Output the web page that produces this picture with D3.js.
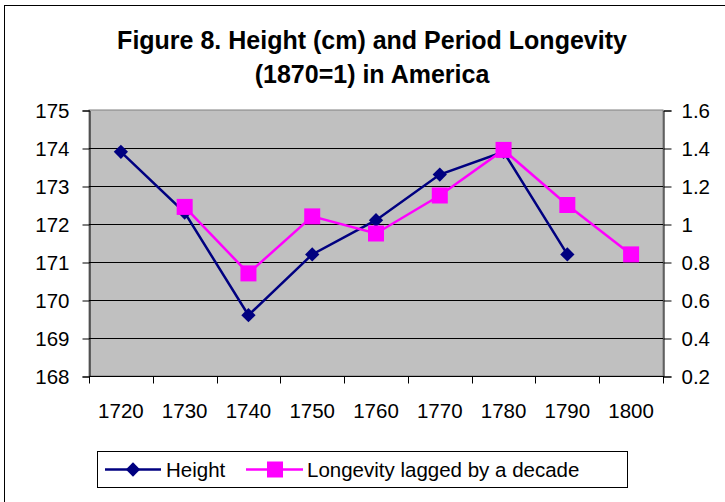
<!DOCTYPE html>
<html>
<head>
<meta charset="utf-8">
<script src="https://cdn.jsdelivr.net/npm/d3@7"></script>
<style>
  body { margin: 0; background: #fff; }
  text { font-family: "Liberation Sans", Arial, sans-serif; fill: #000; }
</style>
</head>
<body>
<div id="chart"></div>
<script>
const years = ['1720', '1730', '1740', '1750', '1760', '1770', '1780', '1790', '1800']
const height = [173.9, 172.3, 169.6, 171.2, 172.1, 173.3, 173.9, 171.2, null]
const longevity = [null, 1.09, 0.74, 1.04, 0.95, 1.15, 1.39, 1.10, 0.84]
const leftTicks = [168, 169, 170, 171, 172, 173, 174, 175]
const rightTicks = [0.2, 0.4, 0.6, 0.8, 1, 1.2, 1.4, 1.6]
const titleLines = ['Figure 8. Height (cm) and Period Longevity', '(1870=1) in America']
const seriesNames = ['Height', 'Longevity lagged by a decade']

const W = 725, H = 502
const plot = { left: 89, right: 663, top: 110, bottom: 376 }

const svg = d3.select('#chart')
  .append('svg')
  .attr('width', W)
  .attr('height', H)

// outer frame (runs off the right and bottom edge)
svg.append('rect')
  .attr('x', 4.5).attr('y', 5.5)
  .attr('width', 740).attr('height', 520)
  .attr('fill', 'none')
  .attr('stroke', '#000')

const x = d3.scaleBand()
  .domain(years)
  .range([plot.left, plot.right])

const yL = d3.scaleLinear().domain([168, 175]).range([plot.bottom, plot.top])
const yR = d3.scaleLinear().domain([0.2, 1.6]).range([plot.bottom, plot.top])

// plot area
svg.append('rect')
  .attr('x', plot.left).attr('y', plot.top)
  .attr('width', plot.right - plot.left)
  .attr('height', plot.bottom - plot.top)
  .attr('fill', '#c0c0c0')
  .attr('stroke', '#808080')

// gridlines
svg.append('g')
  .selectAll('line')
  .data(leftTicks.slice(1, -1))
  .enter()
  .append('line')
  .attr('x1', plot.left).attr('x2', plot.right)
  .attr('y1', d => Math.round(yL(d)) + 0.5)
  .attr('y2', d => Math.round(yL(d)) + 0.5)
  .attr('stroke', '#000')

// left axis
const gL = svg.append('g').attr('transform', 'translate(' + (plot.left + 0.5) + ',0.5)')
gL.call(d3.axisLeft(yL).tickValues(leftTicks).tickSize(7).tickPadding(13).tickFormat(d3.format('d')))
// right axis
const gR = svg.append('g').attr('transform', 'translate(' + (plot.right + 0.5) + ',0.5)')
gR.call(d3.axisRight(yR).tickValues(rightTicks).tickSize(8).tickPadding(10).tickFormat(d => String(+d.toFixed(1))))
// bottom axis, ticks at category boundaries
const bounds = years.map(d => x(d)).concat([plot.right])
const gB = svg.append('g').attr('transform', 'translate(0,' + (plot.bottom + 0.5) + ')')
gB.append('line')
  .attr('x1', plot.left).attr('x2', plot.right + 1)
  .attr('stroke', '#000')
gB.selectAll('.tk')
  .data(bounds)
  .enter()
  .append('line')
  .attr('class', 'tk')
  .attr('x1', d => Math.round(d) + 0.5).attr('x2', d => Math.round(d) + 0.5)
  .attr('y1', 0).attr('y2', 7)
  .attr('stroke', '#000')
gB.selectAll('text')
  .data(years)
  .enter()
  .append('text')
  .attr('x', d => x(d) + x.bandwidth() / 2)
  .attr('y', 41)
  .attr('text-anchor', 'middle')
  .style('font-size', '20.5px')
  .text(d => d)

;[gL, gR].forEach(g => {
  g.select('.domain').attr('stroke', '#000')
  g.selectAll('.tick line').attr('stroke', '#000')
  g.selectAll('.tick text')
    .style('font-size', '20.5px')
    .style('font-family', '"Liberation Sans", Arial, sans-serif')
    .attr('fill', '#000')
})

// title
svg.append('g')
  .selectAll('text')
  .data(titleLines)
  .enter()
  .append('text')
  .attr('x', 372)
  .attr('y', (d, i) => 48.5 + i * 34)
  .attr('text-anchor', 'middle')
  .style('font-size', '25px')
  .style('font-weight', 'bold')
  .text(d => d)

const cx = i => x(years[i]) + x.bandwidth() / 2
const diamond = d3.symbol().type(d3.symbolDiamond2)

// height series
const navy = '#000080', pink = '#ff00ff'
const hPts = height.map((v, i) => ({ v, i })).filter(d => d.v !== null)
svg.append('path')
  .datum(hPts)
  .attr('fill', 'none')
  .attr('stroke', navy)
  .attr('stroke-width', 2.5)
  .attr('d', d3.line().x(d => cx(d.i)).y(d => yL(d.v)))
svg.append('g')
  .selectAll('path')
  .data(hPts)
  .enter()
  .append('path')
  .attr('transform', d => 'translate(' + cx(d.i) + ',' + yL(d.v) + ')')
  .attr('d', diamond.size(130))
  .attr('fill', navy)

// longevity series
const lPts = longevity.map((v, i) => ({ v, i })).filter(d => d.v !== null)
svg.append('path')
  .datum(lPts)
  .attr('fill', 'none')
  .attr('stroke', pink)
  .attr('stroke-width', 2.5)
  .attr('d', d3.line().x(d => cx(d.i)).y(d => yR(d.v)))
svg.append('g')
  .selectAll('rect')
  .data(lPts)
  .enter()
  .append('rect')
  .attr('x', d => cx(d.i) - 8)
  .attr('y', d => yR(d.v) - 8)
  .attr('width', 16).attr('height', 16)
  .attr('fill', pink)

// legend
const lg = svg.append('g')
lg.append('rect')
  .attr('x', 97.5).attr('y', 451.5)
  .attr('width', 530).attr('height', 36)
  .attr('fill', '#fff')
  .attr('stroke', '#000')
lg.append('line').attr('x1', 105).attr('x2', 161).attr('y1', 469.5).attr('y2', 469.5)
  .attr('stroke', navy).attr('stroke-width', 2.5)
lg.append('path').attr('transform', 'translate(133,469.5)').attr('d', diamond.size(130)).attr('fill', navy)
lg.append('text').attr('x', 166).attr('y', 477).style('font-size', '20.5px').text(seriesNames[0])
lg.append('line').attr('x1', 246).attr('x2', 303).attr('y1', 469.5).attr('y2', 469.5)
  .attr('stroke', pink).attr('stroke-width', 2.5)
lg.append('rect').attr('x', 267).attr('y', 461.5).attr('width', 16).attr('height', 16).attr('fill', pink)
lg.append('text').attr('x', 307).attr('y', 477).style('font-size', '20.5px').text(seriesNames[1])
</script>
</body>
</html>
